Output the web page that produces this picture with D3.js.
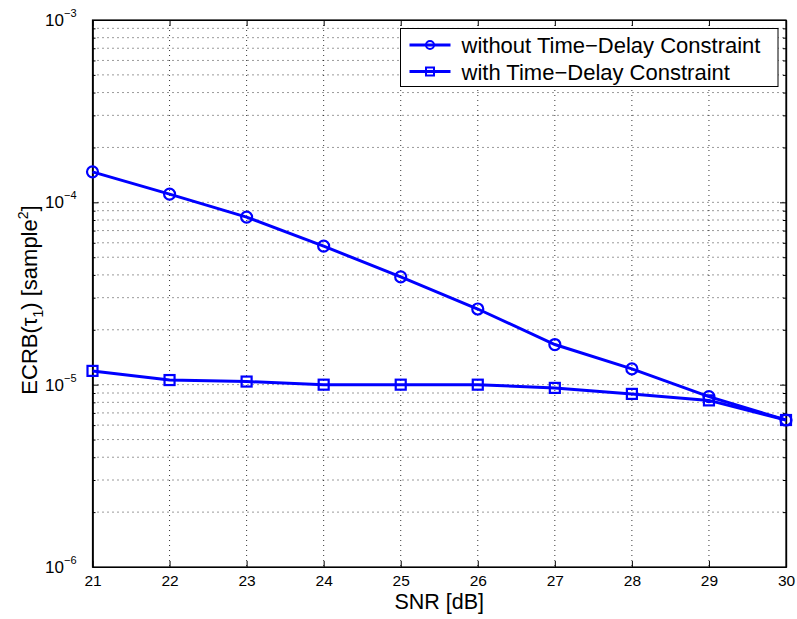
<!DOCTYPE html>
<html>
<head>
<meta charset="utf-8">
<script src="https://cdn.jsdelivr.net/npm/d3@7"></script>
<style>
  body { margin: 0; background: #fff; }
  svg { font-family: "Liberation Sans", Arial, Helvetica, sans-serif; }
</style>
</head>
<body>
<svg id="chart" width="797" height="619"></svg>
<script>
var snr = [21, 22, 23, 24, 25, 26, 27, 28, 29, 30];
var withoutConstraint = [1.47e-4, 1.11e-4, 8.3e-5, 5.75e-5, 3.9e-5, 2.6e-5, 1.66e-5, 1.22e-5, 8.6e-6, 6.4e-6];
var withConstraint = [1.19e-5, 1.06e-5, 1.04e-5, 1.0e-5, 1.0e-5, 1.0e-5, 9.6e-6, 8.9e-6, 8.2e-6, 6.4e-6];
var seriesNames = ["without Time\u2212Delay Constraint", "with Time\u2212Delay Constraint"];
var yDecades = [-6, -5, -4, -3];

var margin = { top: 20, right: 11, bottom: 52, left: 92.5 };
var width = 797 - margin.left - margin.right;
var height = 619 - margin.top - margin.bottom;
var blue = "#0000ff";

var svg = d3.select("#chart");
var g = svg.append("g").attr("transform", `translate(${margin.left},${margin.top})`);

var x = d3.scaleLinear().domain([21, 30]).range([0, width]);
var y = d3.scaleLog().domain([1e-6, 1e-3]).range([height, 0]);

// minor values 2..9 in each decade
var minors = [];
yDecades.slice(0, -1).forEach(function (p) {
  for (var k = 2; k <= 9; k++) minors.push(k * Math.pow(10, p));
});
var majors = yDecades.map(function (p) { return Math.pow(10, p); });

// dotted grid
var grid = g.append("g").attr("stroke", "#000").attr("stroke-width", 0.8)
  .attr("stroke-dasharray", "1,4");
grid.selectAll(".gx").data(snr.slice(1, -1)).enter().append("line")
  .attr("x1", d => x(d)).attr("x2", d => x(d)).attr("y1", 0).attr("y2", height);
grid.selectAll(".gy").data(minors.concat(majors.slice(1, -1))).enter().append("line")
  .attr("x1", 0).attr("x2", width).attr("y1", d => y(d)).attr("y2", d => y(d));

// axes, ticks pointing inward
var xAxis = g.append("g").attr("transform", `translate(0,${height})`)
  .call(d3.axisBottom(x).tickValues(snr).tickFormat(d3.format("d")).tickSizeInner(-6).tickSizeOuter(0).tickPadding(8));
g.append("g")
  .call(d3.axisTop(x).tickValues(snr).tickFormat("").tickSizeInner(-6).tickSizeOuter(0));
g.append("g")
  .call(d3.axisLeft(y).tickValues(majors).tickFormat("").tickSizeInner(-6).tickSizeOuter(0));
g.append("g").attr("transform", `translate(${width},0)`)
  .call(d3.axisRight(y).tickValues(majors).tickFormat("").tickSizeInner(-6).tickSizeOuter(0));
g.append("g").call(d3.axisLeft(y).tickValues(minors).tickFormat("").tickSizeInner(-3).tickSizeOuter(0));
g.append("g").attr("transform", `translate(${width},0)`)
  .call(d3.axisRight(y).tickValues(minors).tickFormat("").tickSizeInner(-3).tickSizeOuter(0));

g.selectAll(".domain").attr("stroke", "#000").attr("stroke-width", 1.2);
g.selectAll(".tick line").attr("stroke", "#000");
xAxis.selectAll("text").attr("font-size", 15.5).attr("fill", "#000").attr("font-family", null);

// box
g.append("rect").attr("width", width).attr("height", height)
  .attr("fill", "none").attr("stroke", "#000").attr("stroke-width", 1.2);

// y tick labels 10^p
var yl = g.append("g").selectAll("text").data(yDecades).enter().append("text")
  .attr("x", -16).attr("y", d => y(Math.pow(10, d)) + 6)
  .attr("text-anchor", "end").attr("font-size", 17).attr("fill", "#000");
yl.append("tspan").text("10");
yl.append("tspan").attr("dy", -9).attr("font-size", 11).text(d => "\u2212" + Math.abs(d));

// axis labels
g.append("text").attr("x", width / 2).attr("y", height + 42)
  .attr("text-anchor", "middle").attr("font-size", 21.5).text("SNR [dB]");
var ylab = svg.append("text")
  .attr("transform", `translate(37,300) rotate(-90)`)
  .attr("text-anchor", "middle").attr("font-size", 22);
ylab.append("tspan").text("ECRB(\u03c4");
ylab.append("tspan").attr("dy", 6).attr("font-size", 14).text("1");
ylab.append("tspan").attr("dy", -6).text(") [sample");
ylab.append("tspan").attr("dy", -9).attr("font-size", 14).text("2");
ylab.append("tspan").attr("dy", 9).text("]");

// lines
var line = d3.line().x((d, i) => x(snr[i])).y(d => y(d));
[withoutConstraint, withConstraint].forEach(function (vals) {
  g.append("path").datum(vals).attr("d", line)
    .attr("fill", "none").attr("stroke", blue).attr("stroke-width", 3);
});

// markers
g.selectAll(".circ").data(withoutConstraint).enter().append("circle")
  .attr("cx", (d, i) => x(snr[i])).attr("cy", d => y(d)).attr("r", 5.5)
  .attr("fill", "none").attr("stroke", blue).attr("stroke-width", 2.2);
g.selectAll(".sq").data(withConstraint).enter().append("rect")
  .attr("x", (d, i) => x(snr[i]) - 5).attr("y", d => y(d) - 5)
  .attr("width", 10).attr("height", 10)
  .attr("fill", "none").attr("stroke", blue).attr("stroke-width", 2.2);

// legend
var lx = 400.5 - margin.left, ly = 28.5 - margin.top;
var legend = g.append("g").attr("transform", `translate(${lx},${ly})`);
legend.append("rect").attr("width", 377.5).attr("height", 58)
  .attr("fill", "#fff").attr("stroke", "#000").attr("stroke-width", 1);
seriesNames.forEach(function (name, i) {
  var yy = 16.5 + i * 26.5;
  legend.append("line").attr("x1", 9).attr("x2", 50).attr("y1", yy).attr("y2", yy)
    .attr("stroke", blue).attr("stroke-width", 3);
  if (i === 0) {
    legend.append("circle").attr("cx", 29.5).attr("cy", yy).attr("r", 4)
      .attr("fill", "none").attr("stroke", blue).attr("stroke-width", 2);
  } else {
    legend.append("rect").attr("x", 25.5).attr("y", yy - 4).attr("width", 8).attr("height", 8)
      .attr("fill", "none").attr("stroke", blue).attr("stroke-width", 2);
  }
  legend.append("text").attr("x", 61).attr("y", yy + 8)
    .attr("font-size", 22).attr("fill", "#000").text(name);
});
</script>
</body>
</html>
